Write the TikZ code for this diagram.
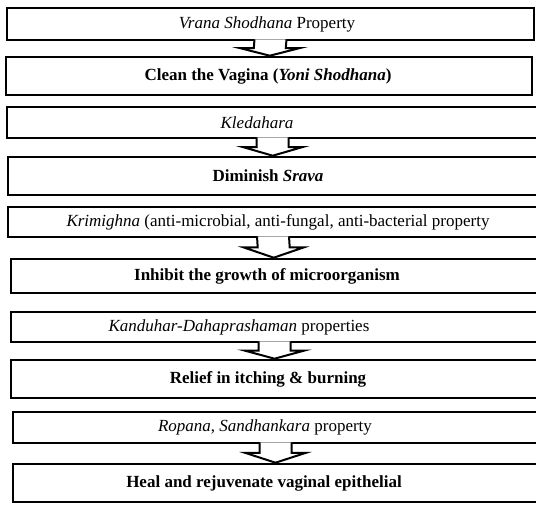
\documentclass[tikz,border=0pt]{standalone}
\usepackage{fontspec}
\setmainfont{Liberation Serif}
\usetikzlibrary{calc}

\tikzset{
  propbox/.style={draw, rectangle, line width=2.6pt, fill=white, inner sep=0pt},
  proptext/.style={font=\fontsize{17}{20}\selectfont, inner sep=0pt},
  effecttext/.style={font=\fontsize{17}{20}\selectfont\bfseries, inner sep=0pt},
  flowarrow/.style={draw, fill=white, line width=2pt, line join=miter},
}

% block arrow from the bottom of box #1 to the top of box #2
\newcommand{\downflow}[2]{%
  \coordinate (mid#1) at ($(#1.south)!0.47!(#2.north)$);
  \filldraw[flowarrow] ($(#1.south)+(-16,-2)$) -- ($(mid#1)+(-16,0)$) -- ($(mid#1)+(-30,0)$)
    -- (mid#1 |- #2.north) -- ($(mid#1)+(30,0)$) -- ($(mid#1)+(16,0)$) -- ($(#1.south)+(16,-2)$);
}

\begin{document}
\begin{tikzpicture}[x=1pt, y=-1pt]
\useasboundingbox (0,0) rectangle (536,506);
\clip (0,0) rectangle (536,506);

% Boxes
\node[propbox, minimum width=527pt, minimum height=32pt] (vrana) at (270.5,24) {};
\node[propbox, minimum width=526pt, minimum height=38pt] (clean) at (269,76) {};
\node[propbox, minimum width=531pt, minimum height=31pt] (kleda) at (272.5,122.5) {};
\node[propbox, minimum width=530pt, minimum height=38pt] (srava) at (273,176) {};
\node[propbox, minimum width=530pt, minimum height=30pt] (krimi) at (273,222) {};
\node[propbox, minimum width=527pt, minimum height=34pt] (inhib) at (274.5,276) {};
\node[propbox, minimum width=527pt, minimum height=30pt] (kandu) at (274.5,327) {};
\node[propbox, minimum width=527pt, minimum height=38pt] (relief) at (274.5,379) {};
\node[propbox, minimum width=525pt, minimum height=31pt] (ropana) at (275.5,427.5) {};
\node[propbox, minimum width=525pt, minimum height=38pt] (heal) at (275.5,483) {};

% Texts
\node[proptext] (vranatxt) at (267,24) {\textit{Vrana Shodhana} Property};
\node[effecttext] (cleantxt) at (268,76) {Clean the Vagina (\textit{Yoni Shodhana})};
\node[proptext] (kledatxt) at (257,122.5) {\textit{Kledahara}};
\node[effecttext] (sravatxt) at (268,176) {Diminish \textit{Srava}};
\node[proptext] (krimitxt) at (278,222) {\textit{Krimighna} (anti-microbial, anti-fungal, anti-bacterial property};
\node[effecttext] (inhibtxt) at (267,276) {Inhibit the growth of microorganism};
\node[proptext] (kandutxt) at (239,327) {\textit{Kanduhar-Dahaprashaman} properties};
\node[effecttext] (relieftxt) at (268,379) {Relief in itching \& burning};
\node[proptext] (ropanatxt) at (265,427.5) {\textit{Ropana}, \textit{Sandhankara} property};
\node[effecttext] (healtxt) at (264,483) {Heal and rejuvenate vaginal epithelial};

% Arrows
\downflow{vrana}{clean}
\downflow{kleda}{srava}
\downflow{krimi}{inhib}
\downflow{kandu}{relief}
\downflow{ropana}{heal}
\end{tikzpicture}
\end{document}
